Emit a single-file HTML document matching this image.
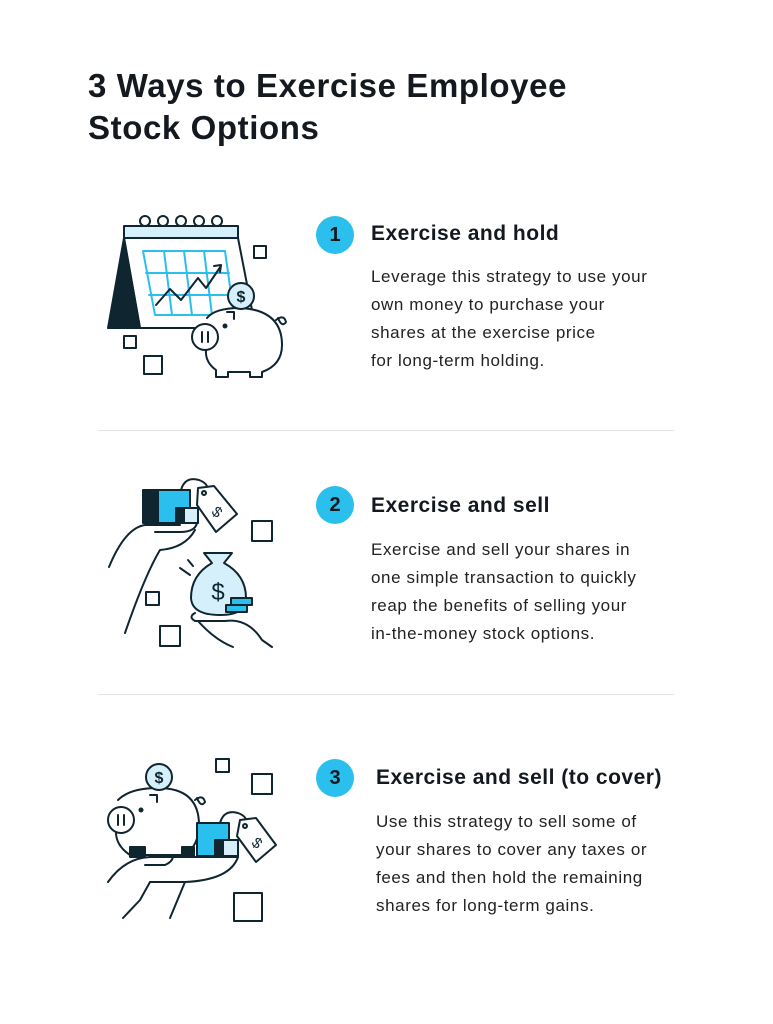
<!DOCTYPE html>
<html><head><meta charset="utf-8"><style>
body{margin:0;width:773px;height:1024px;background:#fff;position:relative;overflow:hidden;font-family:"Liberation Sans",sans-serif;color:#14191f}
.t{position:absolute;left:88px;top:65px;font-size:33px;font-weight:bold;line-height:42px;letter-spacing:0.6px}
.h{position:absolute;font-size:21px;font-weight:bold;white-space:nowrap;letter-spacing:0.5px}
.p{position:absolute;font-size:17px;line-height:28px;white-space:nowrap;color:#222;letter-spacing:0.6px}
.b{position:absolute;width:38px;height:38px;border-radius:50%;background:#2bbfee;font-weight:bold;font-size:20px;text-align:center;line-height:38px}
.hr{position:absolute;left:98px;width:576px;height:1px;background:#e3e6e8}
svg{position:absolute;left:0;top:0}
</style></head><body>
<div class="t">3 Ways to Exercise Employee<br>Stock Options</div>
<div class="b" style="left:316px;top:216px">1</div>
<div class="h" style="left:371px;top:222px">Exercise and hold</div>
<div class="p" style="left:371px;top:263px">Leverage this strategy to use your<br>own money to purchase your<br>shares at the exercise price<br>for long-term holding.</div>
<div class="hr" style="top:430px"></div>
<div class="b" style="left:316px;top:486px">2</div>
<div class="h" style="left:371px;top:494px">Exercise and sell</div>
<div class="p" style="left:371px;top:536px">Exercise and sell your shares in<br>one simple transaction to quickly<br>reap the benefits of selling your<br>in-the-money stock options.</div>
<div class="hr" style="top:694px"></div>
<div class="b" style="left:316px;top:759px">3</div>
<div class="h" style="left:376px;top:766px">Exercise and sell (to cover)</div>
<div class="p" style="left:376px;top:808px">Use this strategy to sell some of<br>your shares to cover any taxes or<br>fees and then hold the remaining<br>shares for long-term gains.</div>
<svg width="773" height="1024" fill="none" stroke="#0f2530" stroke-width="2" stroke-linejoin="round" stroke-linecap="round">
<path d="M124 238 L108 328 L140 328 Z" fill="#0f2530"/>
<path d="M124 238 L238 238 L252 310 M124 238 L140 328 L200 328"/>
<rect x="124" y="226" width="114" height="12" fill="#d6f0fb"/>
<g><circle cx="145" cy="221" r="5"/><circle cx="163" cy="221" r="5"/><circle cx="181" cy="221" r="5"/><circle cx="199" cy="221" r="5"/><circle cx="217" cy="221" r="5"/></g>
<g stroke="#2bbfee"><path d="M143 251 L225 251 L234 315 L155 315 Z M146 273 L229 273 M149 295 L232 295 M164 251 L172 315 M184 251 L192 315 M204 251 L212 315"/></g>
<path d="M156 305 L170 289 L181 300 L198 278 L206 288 L221 266 M214 266 L221 265 L220 272"/>
<path d="M207 318 Q215 308 240 308 Q282 310 282 345 Q282 365 262 372 L262 377 L250 377 L250 372 L228 372 L228 377 L216 377 L216 370 Q205 362 206 350" fill="#fff"/>
<circle cx="241" cy="296" r="13" fill="#d6f0fb"/>
<text x="241" y="302" font-size="16" fill="#0f2530" stroke="none" text-anchor="middle" font-weight="bold">$</text>
<circle cx="205" cy="337" r="13" fill="#fff"/>
<path d="M202 332 v10 M208 332 v10 M227 312 h7 v7 M276 320 q8 -6 10 2 q-4 6 -8 -4"/>
<circle cx="225" cy="326" r="1.5" fill="#0f2530"/>
<rect x="254" y="246" width="12" height="12"/><rect x="124" y="336" width="12" height="12"/><rect x="144" y="356" width="18" height="18"/>
<rect x="143" y="490" width="15" height="33" fill="#0f2530"/>
<rect x="158" y="490" width="32" height="33" fill="#2bbfee"/>
<rect x="176" y="508" width="8" height="15" fill="#0f2530"/>
<rect x="184" y="508" width="14" height="15" fill="#d6f0fb"/>
<path d="M181 490 q4 -14 18 -10 q10 4 8 10"/>
<path d="M198 488 L214 486 L237 514 L216 532 L197 505 Z" fill="#fff"/>
<circle cx="204" cy="493" r="2"/>
<text x="217" y="517" font-size="15" fill="#0f2530" stroke="none" text-anchor="middle" transform="rotate(40 217 512)">$</text>
<path d="M109 567 Q125 528 145 525 L180 525 M155 532 L180 532 Q195 532 197 523 M195 530 Q185 548 160 550 Q145 575 125 633"/>
<path d="M204 553 L232 553 L224 563 Q246 575 246 598 Q246 615 220 615 Q192 615 191 598 Q191 575 212 563 Z" fill="#d6f0fb"/>
<text x="218" y="600" font-size="24" fill="#0f2530" stroke="none" text-anchor="middle">$</text>
<rect x="231" y="598" width="21" height="7" fill="#2bbfee"/><rect x="226" y="605" width="21" height="7" fill="#2bbfee"/>
<path d="M180 568 L190 575 M188 560 L193 566"/>
<path d="M195 613 Q188 617 195 621 L225 621 Q248 618 262 640 L272 647 M198 621 Q215 640 233 647"/>
<rect x="252" y="521" width="20" height="20"/><rect x="146" y="592" width="13" height="13"/><rect x="160" y="626" width="20" height="20"/>
<path d="M118 800 Q130 788 158 788 Q199 788 199 825 Q199 845 185 855 L130 855 Q115 845 116 830" fill="#fff"/>
<rect x="130" y="847" width="15" height="10" fill="#0f2530"/><rect x="182" y="847" width="12" height="10" fill="#0f2530"/>
<circle cx="159" cy="777" r="13" fill="#d6f0fb"/>
<text x="159" y="783" font-size="16" fill="#0f2530" stroke="none" text-anchor="middle" font-weight="bold">$</text>
<circle cx="121" cy="820" r="13" fill="#fff"/>
<path d="M118 815 v10 M124 815 v10 M150 795 h7 v7 M195 800 q8 -6 10 2 q-4 6 -8 -4"/>
<circle cx="141" cy="810" r="1.5" fill="#0f2530"/>
<rect x="197" y="823" width="32" height="33" fill="#2bbfee"/>
<rect x="215" y="840" width="8" height="16" fill="#0f2530"/>
<rect x="223" y="840" width="15" height="16" fill="#d6f0fb"/>
<path d="M220 823 q4 -14 18 -10 q10 4 8 10"/>
<path d="M240 820 L256 818 L276 845 L256 862 L237 836 Z" fill="#fff"/>
<circle cx="245" cy="826" r="2"/>
<text x="257" y="848" font-size="15" fill="#0f2530" stroke="none" text-anchor="middle" transform="rotate(40 257 843)">$</text>
<path d="M108 882 Q125 858 150 857 L238 857 M145 865 L165 865 Q172 862 173 857 M238 857 Q230 880 185 882 L170 918 M150 882 L140 900 L123 918 M185 882 Q170 882 150 882"/>
<rect x="216" y="759" width="13" height="13"/><rect x="252" y="774" width="20" height="20"/><rect x="234" y="893" width="28" height="28"/>
</svg>
</body></html>
